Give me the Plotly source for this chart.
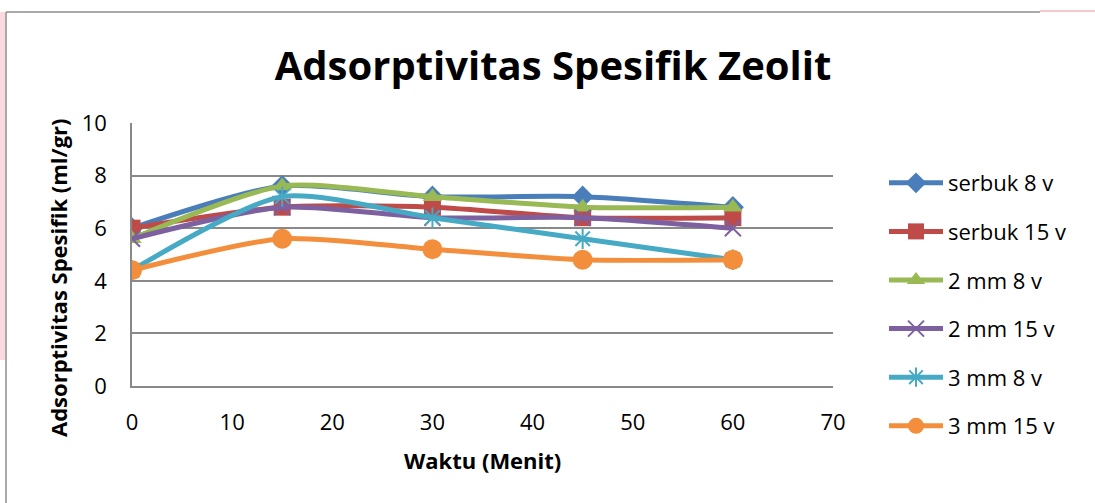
import plotly.graph_objects as go

waktu = [0, 15, 30, 45, 60]
serbuk_8v = [6.0, 7.6, 7.2, 7.2, 6.8]
serbuk_15v = [6.0, 6.8, 6.8, 6.4, 6.4]
mm2_8v = [5.6, 7.6, 7.2, 6.8, 6.8]
mm2_15v = [5.6, 6.8, 6.4, 6.4, 6.0]
mm3_8v = [4.4, 7.2, 6.4, 5.6, 4.8]
mm3_15v = [4.4, 5.6, 5.2, 4.8, 4.8]

names = ["serbuk 8 v", "serbuk 15 v", "2 mm 8 v", "2 mm 15 v", "3 mm 8 v", "3 mm 15 v"]
series = [serbuk_8v, serbuk_15v, mm2_8v, mm2_15v, mm3_8v, mm3_15v]
colors = ["#4A7EBB", "#BE4B48", "#98B954", "#7D60A0", "#46AAC5", "#F38F3C"]
symbols = ["diamond", "square", "triangle-up", "x-thin", "asterisk-open", "circle"]
sizes = [17, 17, 17, 16, 17, 20]

W, H = 1095, 503
L, R, T, B = 132, 262, 123, 117
pw, ph = W - L - R, H - T - B

def px(x):
    return (x - L) / pw

def py(y):
    return (H - B - y) / ph

fig = go.Figure()
for i, (n, s) in enumerate(zip(names, series)):
    mk = dict(symbol=symbols[i], size=sizes[i], color=colors[i])
    if symbols[i] in ("x-thin", "asterisk-open"):
        mk["line"] = dict(color=colors[i], width=2)
    fig.add_trace(go.Scatter(
        x=waktu, y=s, name=n, mode="lines+markers",
        line=dict(color=colors[i], width=5, shape="spline", smoothing=0.7),
        marker=mk, legendgroup=n,
    ))

font = "Open Sans, Noto Sans, DejaVu Sans, sans-serif"

fig.update_layout(
    width=W, height=H,
    margin=dict(l=L, r=R, t=T, b=B, autoexpand=False),
    paper_bgcolor="white", plot_bgcolor="white",
    font=dict(family=font, size=22, color="black"),
    title=dict(text="<b>Adsorptivitas Spesifik Zeolit</b>", x=553 / W, xanchor="center",
               y=1 - 66 / H, yanchor="middle", font=dict(size=40, color="black")),
    xaxis=dict(range=[0, 70], dtick=10, tick0=0, showgrid=False, zeroline=False,
               showline=True, linecolor="#898989", linewidth=1.5, ticks="",
               ticklabelstandoff=16, tickfont=dict(size=22)),
    yaxis=dict(range=[0, 10], dtick=2, tick0=0, showgrid=True, gridcolor="#898989",
               gridwidth=1.5, zeroline=False, showline=True, linecolor="#898989",
               linewidth=1.5, ticks="", ticklabelstandoff=19, tickfont=dict(size=22)),
    legend=dict(x=px(884), y=py(162), xanchor="left", yanchor="top",
                font=dict(size=22), tracegroupgap=17, itemwidth=54,
                bgcolor="rgba(0,0,0,0)", maxheight=400),
    showlegend=True,
    annotations=[
        dict(text="<b>Adsorptivitas Spesifik (ml/gr)</b>", textangle=-90,
             xref="paper", yref="paper", x=px(58), y=py(278),
             xanchor="center", yanchor="middle", showarrow=False,
             font=dict(size=22, color="black")),
        dict(text="<b>Waktu (Menit)</b>",
             xref="paper", yref="paper", x=px(483), y=py(460),
             xanchor="center", yanchor="middle", showarrow=False,
             font=dict(size=22, color="black")),
    ],
    shapes=[
        dict(type="rect", xref="paper", yref="paper", x0=px(0), x1=px(5), y0=py(360), y1=py(12),
             fillcolor="#FBDADF", line=dict(width=0), layer="below"),
        dict(type="line", xref="paper", yref="paper", x0=px(6), x1=px(6), y0=py(12), y1=py(503),
             line=dict(color="#8C8C8C", width=1.5)),
        dict(type="line", xref="paper", yref="paper", x0=px(6), x1=px(1040), y0=py(12), y1=py(12),
             line=dict(color="#8C8C8C", width=1.5)),
        dict(type="line", xref="paper", yref="paper", x0=px(1040), x1=px(1095), y0=py(11), y1=py(11),
             line=dict(color="#F6C9CF", width=2)),
    ],
)

fig.write_html("out.html", config={"displayModeBar": False},
               post_script="document.body.style.margin='0px';")
